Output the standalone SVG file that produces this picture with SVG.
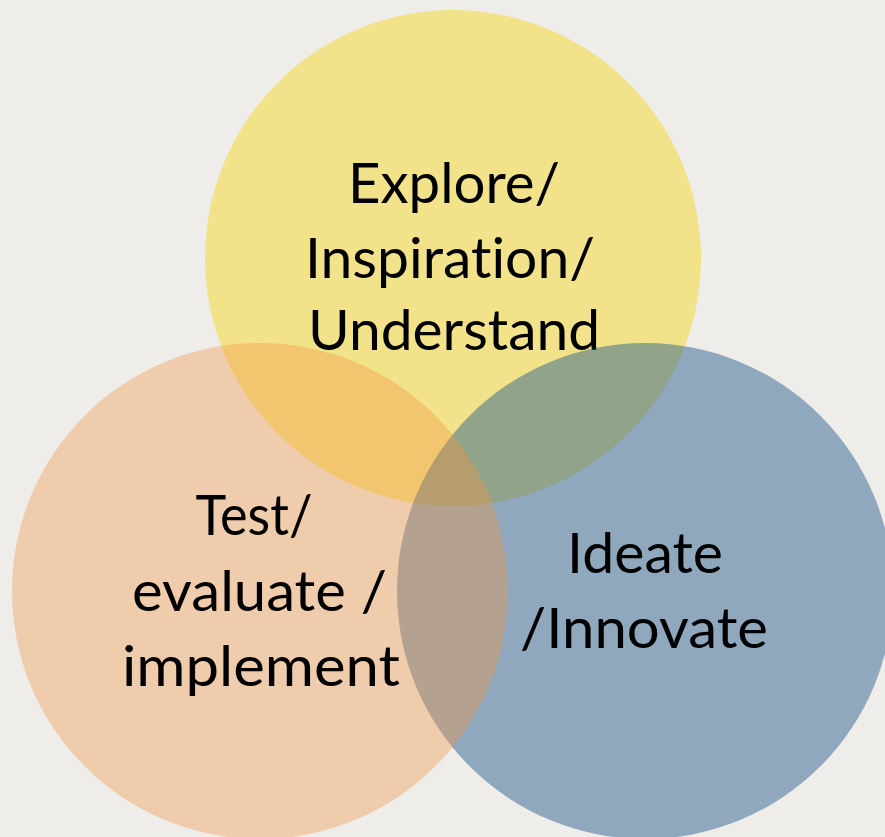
<svg xmlns="http://www.w3.org/2000/svg" width="885" height="837" viewBox="0 0 885 837">
<style>
.lbl{font-family:Lato,"Open Sans","Liberation Sans",sans-serif;font-size:57px;fill:#000;text-anchor:middle;font-variant-ligatures:none}
</style>
<rect width="885" height="837" fill="#EEEDEA"/>
<g id="explore">
<circle cx="453" cy="258" r="248" fill="#F2E38A"/>
<text class="lbl" x="454" y="203" textLength="212" lengthAdjust="spacingAndGlyphs">Explore/</text>
<text class="lbl" x="450" y="278" textLength="290" lengthAdjust="spacingAndGlyphs">Inspiration/</text>
<text class="lbl" x="454" y="350" textLength="292" lengthAdjust="spacingAndGlyphs">Understand</text>
</g>
<g id="ideate">
<circle cx="645" cy="591" r="248" fill="#1B5488" fill-opacity="0.45"/>
</g>
<g id="test">
<circle cx="260" cy="591" r="248" fill="#F19542" fill-opacity="0.375"/>
<text class="lbl" x="254" y="535" textLength="117" lengthAdjust="spacingAndGlyphs">Test/</text>
<text class="lbl" x="259.5" y="611" textLength="255" lengthAdjust="spacingAndGlyphs">evaluate /</text>
<text class="lbl" x="261" y="686" textLength="278" lengthAdjust="spacingAndGlyphs">implement</text>
</g>
<g id="ideate-label">
<text class="lbl" x="645" y="573" textLength="156" lengthAdjust="spacingAndGlyphs">Ideate</text>
<text class="lbl" x="644" y="648" textLength="248" lengthAdjust="spacingAndGlyphs">/Innovate</text>
</g>
<g id="connectors"></g>
</svg>
